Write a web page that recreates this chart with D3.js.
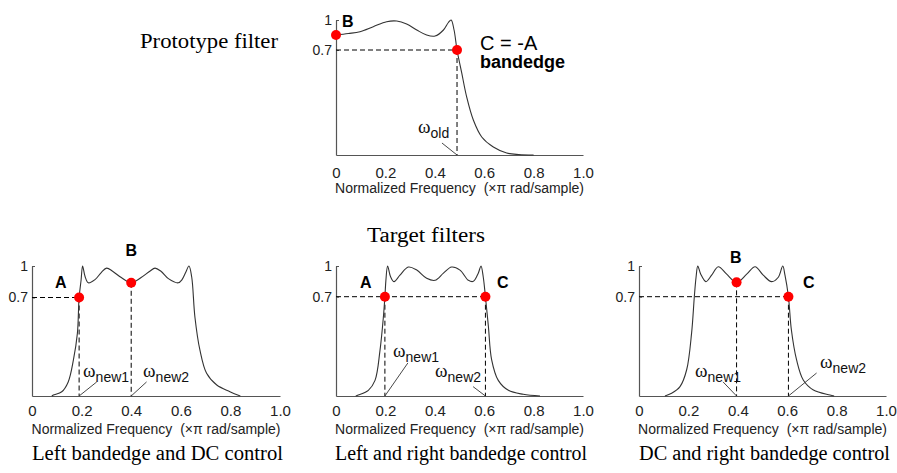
<!DOCTYPE html>
<html><head><meta charset="utf-8">
<script src="https://cdn.jsdelivr.net/npm/d3@7"></script>
<style>body{margin:0;background:#fff} svg{display:block}</style>
</head><body><svg id="c" width="897" height="473"></svg>
<script>
// ---------- data ----------
const xTickValues = [0, 0.2, 0.4, 0.6, 0.8, 1.0];
const xTickLabels = ["0", "0.2", "0.4", "0.6", "0.8", "1.0"];
const yTickValues = [0.7, 1];
const yTickLabels = ["0.7", "1"];
const xAxisLabel = "Normalized Frequency  (\u00d7\u03c0 rad/sample)";

const protoFreq = [0, 0.05, 0.097, 0.151, 0.205, 0.246, 0.286, 0.327, 0.367, 0.401, 0.435, 0.455, 0.466, 0.478, 0.49, 0.509, 0.529, 0.556, 0.59, 0.637, 0.691, 0.74, 0.8];
const protoMag  = [0.85, 0.865, 0.883, 0.933, 0.983, 0.99, 0.96, 0.9, 0.85, 0.84, 0.9, 0.975, 1.0, 0.9, 0.7, 0.547, 0.387, 0.233, 0.12, 0.053, 0.013, 0.003, 0];

const leftFreq = [0.08, 0.086, 0.12, 0.146, 0.167, 0.183, 0.19, 0.198, 0.204, 0.214, 0.227, 0.254, 0.28, 0.301, 0.325, 0.36, 0.4, 0.44, 0.475, 0.496, 0.52, 0.55, 0.59, 0.605, 0.62, 0.633, 0.644, 0.657, 0.677, 0.704, 0.745, 0.798, 0.84];
const leftMag  = [0, 0.007, 0.03, 0.1, 0.256, 0.445, 0.7, 0.867, 1.0, 0.9, 0.84, 0.87, 0.94, 0.98, 0.95, 0.89, 0.84, 0.89, 0.95, 0.98, 0.95, 0.88, 0.84, 0.87, 0.94, 1.0, 0.895, 0.56, 0.327, 0.161, 0.078, 0.031, 0];

const midFreq = [0.08, 0.09, 0.131, 0.158, 0.178, 0.192, 0.198, 0.202, 0.209, 0.221, 0.235, 0.259, 0.293, 0.327, 0.367, 0.401, 0.435, 0.468, 0.502, 0.536, 0.556, 0.576, 0.587, 0.596, 0.605, 0.617, 0.63, 0.657, 0.698, 0.758, 0.826];
const midMag  = [0, 0.007, 0.04, 0.11, 0.32, 0.56, 0.7, 0.86, 1.0, 0.895, 0.847, 0.91, 0.99, 0.96, 0.88, 0.86, 0.93, 0.99, 0.96, 0.86, 0.85, 0.93, 1.0, 0.895, 0.7, 0.49, 0.257, 0.11, 0.04, 0.012, 0];

const rightFreq = [0.105, 0.132, 0.166, 0.193, 0.213, 0.224, 0.231, 0.238, 0.25, 0.271, 0.294, 0.321, 0.355, 0.395, 0.436, 0.47, 0.503, 0.537, 0.564, 0.582, 0.591, 0.605, 0.617, 0.638, 0.665, 0.706, 0.773, 0.79];
const rightMag  = [0, 0.019, 0.066, 0.185, 0.445, 0.7, 0.89, 1.0, 0.92, 0.847, 0.91, 0.993, 0.92, 0.84, 0.92, 0.993, 0.91, 0.847, 0.89, 1.0, 0.91, 0.7, 0.465, 0.254, 0.113, 0.042, 0.007, 0];

const protoMarkers = [{f: 0, m: 0.85}, {f: 0.49, m: 0.7}];
const leftMarkers  = [{f: 0.19, m: 0.7}, {f: 0.4, m: 0.84}];
const midMarkers   = [{f: 0.198, m: 0.7}, {f: 0.605, m: 0.7}];
const rightMarkers = [{f: 0.395, m: 0.84}, {f: 0.605, m: 0.7}];

const titles = ["Prototype filter", "Target filters", "Left bandedge and DC control", "Left and right bandedge control", "DC and right bandedge control"];

// ---------- layout ----------
const SANS = "'Liberation Sans', Arial, sans-serif";
const SERIF = "'Liberation Serif', 'Times New Roman', serif";
const svg = d3.select("#c");

const panels = [
  {freq: protoFreq, mag: protoMag, markers: protoMarkers, xr: [336, 583], yr: [155, 50, 20], xpad: 12,
   hTo: 1, vFrom: [1],
   letters: [{t: "B", f: 0.024, m: 0.93}],
   extra: [{t: "C = -A", f: 0.583, m: 0.7, w: "normal", s: 20}, {t: "bandedge", f: 0.583, m: 0.58, w: "bold", s: 18}],
   omegas: [{sub: "old", f: 0.332, m: 0.147, l: [0.429, 0.08, 0.49, 0]}]},
  {freq: leftFreq, mag: leftMag, markers: leftMarkers, xr: [32, 280], yr: [396, 297.5, 266], xpad: 9,
   hTo: 0, vFrom: [0, 1],
   letters: [{t: "A", f: 0.093, m: 0.79}, {t: "B", f: 0.377, m: 1.095}],
   extra: [],
   omegas: [{sub: "new1", f: 0.206, m: 0.135, l: [0.261, 0.1, 0.19, 0]},
            {sub: "new2", f: 0.448, m: 0.135, l: [0.462, 0.1, 0.4, 0]}]},
  {freq: midFreq, mag: midMag, markers: midMarkers, xr: [336, 583], yr: [396, 296.7, 266], xpad: 9,
   hTo: 1, vFrom: [0, 1],
   letters: [{t: "A", f: 0.097, m: 0.785}, {t: "C", f: 0.652, m: 0.785}],
   extra: [],
   omegas: [{sub: "new1", f: 0.231, m: 0.275, l: [0.291, 0.233, 0.198, 0]},
            {sub: "new2", f: 0.401, m: 0.134, l: [0.555, 0.066, 0.605, 0]}]},
  {freq: rightFreq, mag: rightMag, markers: rightMarkers, xr: [639, 886], yr: [396, 296.7, 266], xpad: 9,
   hTo: 1, vFrom: [0, 1],
   letters: [{t: "B", f: 0.368, m: 1.03}, {t: "C", f: 0.664, m: 0.785}],
   extra: [],
   omegas: [{sub: "new1", f: 0.227, m: 0.134, l: [0.34, 0.1, 0.395, 0]},
            {sub: "new2", f: 0.733, m: 0.197, l: [0.719, 0.162, 0.605, 0]}]}
];

panels.forEach(p => {
  const x = d3.scaleLinear().domain([0, 1]).range(p.xr);
  const y = d3.scaleLinear().domain([0, 0.7, 1]).range(p.yr);
  const g = svg.append("g");

  // axes
  const xa = g.append("g").attr("transform", `translate(0,${y(0)})`)
    .call(d3.axisBottom(x).tickValues(xTickValues).tickFormat((d, i) => xTickLabels[i]).tickSize(0).tickPadding(p.xpad));
  const ya = g.append("g").attr("transform", `translate(${x(0)},0)`)
    .call(d3.axisLeft(y).tickValues(yTickValues).tickFormat((d, i) => yTickLabels[i]).tickSizeInner(-3).tickSizeOuter(0).tickPadding(4));
  [xa, ya].forEach(a => {
    a.select(".domain").attr("stroke", "#555").attr("stroke-width", 1.2);
    a.selectAll(".tick line").attr("stroke", "#555");
    a.selectAll("text").attr("fill", "#222").style("font-family", SANS);
  });
  xa.selectAll("text").style("font-size", "15px");
  ya.selectAll("text").style("font-size", "14px");

  g.append("text").attr("x", (p.xr[0] + p.xr[1]) / 2).attr("y", y(0) + 38)
    .attr("text-anchor", "middle").style("white-space", "pre")
    .style("font-family", SANS).style("font-size", "14px").attr("fill", "#222").text(xAxisLabel);

  // dashed guides
  const hm = p.markers[p.hTo];
  g.append("line").attr("x1", x(0)).attr("x2", x(hm.f)).attr("y1", y(hm.m)).attr("y2", y(hm.m))
    .attr("stroke", "#000").attr("stroke-dasharray", "5,3");
  p.vFrom.forEach(i => {
    const mk = p.markers[i];
    g.append("line").attr("x1", x(mk.f)).attr("x2", x(mk.f)).attr("y1", y(mk.m)).attr("y2", y(0))
      .attr("stroke", "#000").attr("stroke-dasharray", "5,3");
  });

  // curve
  const pts = p.freq.map((f, i) => [f, p.mag[i]]);
  g.append("path").datum(pts)
    .attr("d", d3.line().x(d => x(d[0])).y(d => y(d[1])).curve(d3.curveCatmullRom.alpha(0.5)))
    .attr("fill", "none").attr("stroke", "#333").attr("stroke-width", 1.1);

  // leader lines and omega labels
  p.omegas.forEach(o => {
    g.append("line").attr("x1", x(o.l[0])).attr("y1", y(o.l[1])).attr("x2", x(o.l[2])).attr("y2", y(o.l[3]))
      .attr("stroke", "#333").attr("stroke-width", 0.9);
    const t = g.append("text").attr("x", x(o.f)).attr("y", y(o.m)).attr("fill", "#111");
    t.append("tspan").style("font-family", SERIF).style("font-size", "19px").text("\u03c9");
    t.append("tspan").attr("dy", 5).style("font-family", SANS).style("font-size", "14px").text(o.sub);
  });

  // markers
  g.selectAll("circle.mk").data(p.markers).join("circle")
    .attr("cx", d => x(d.f)).attr("cy", d => y(d.m)).attr("r", 5).attr("fill", "#ff0000");

  // letters
  p.letters.concat(p.extra).forEach(l => {
    g.append("text").attr("x", x(l.f)).attr("y", y(l.m)).text(l.t)
      .style("font-family", SANS).style("font-size", (l.s || 16) + "px").style("font-weight", l.w || "bold").attr("fill", "#000");
  });
});

// titles
const titlePos = [[140, 48, 138], [367, 242, 118], [32, 460, 251], [335, 460, 252], [639, 460, 251]];
titles.forEach((t, i) => {
  svg.append("text").attr("x", titlePos[i][0]).attr("y", titlePos[i][1]).text(t)
    .attr("textLength", titlePos[i][2]).attr("lengthAdjust", "spacingAndGlyphs")
    .style("font-family", SERIF).style("font-size", "20px").attr("fill", "#000");
});
</script></body></html>
